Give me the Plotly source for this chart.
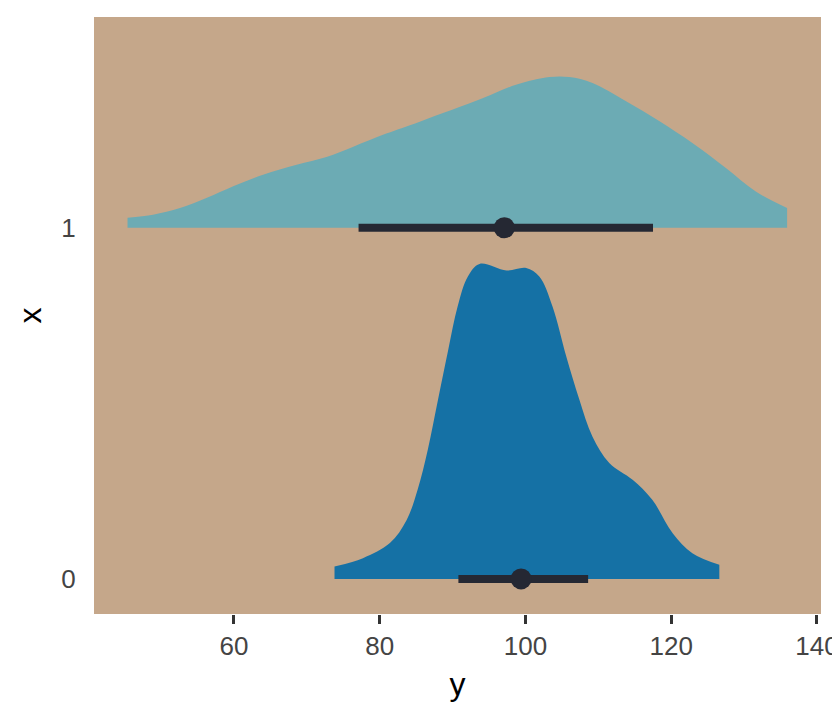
import plotly.graph_objects as go

# half-eye: density slab + point interval per group (x = 0 / 1)
groups = [0, 1]
colors = {0: "#1571A5", 1: "#6CABB4"}

# group 0 density (y value, scaled height)
g0_y = [73.8, 77.7, 81.4, 83.7, 85.2, 86.6, 88.0, 89.4, 90.7, 92.1, 93.7, 97.4, 100.1,
        101.9, 103.7, 105.6, 107.4, 109.2, 111.5, 114.7, 117.4, 120.2, 122.9, 126.6]
g0_h = [0.035, 0.059, 0.102, 0.168, 0.254, 0.368, 0.510, 0.652, 0.776, 0.861, 0.897, 0.878, 0.885,
        0.861, 0.776, 0.633, 0.510, 0.405, 0.330, 0.282, 0.225, 0.130, 0.073, 0.040]
# group 1 density
g1_y = [45.4, 48.9, 52.6, 56.3, 59.9, 64.0, 68.6, 72.7, 76.3, 80.9, 85.5, 94.2, 98.7,
        103.3, 106.0, 109.2, 113.8, 118.4, 122.9, 127.5, 131.6, 135.9]
g1_h = [0.028, 0.037, 0.056, 0.085, 0.118, 0.151, 0.179, 0.201, 0.230, 0.268, 0.302, 0.369, 0.407,
        0.429, 0.429, 0.412, 0.360, 0.303, 0.241, 0.170, 0.103, 0.056]

# point intervals: lower, median, upper
lo = [90.8, 77.1]
mid = [99.4, 97.1]
hi = [108.6, 117.5]

dens = {0: (g0_y, g0_h), 1: (g1_y, g1_h)}
INK = "#252833"

fig = go.Figure()
for g in groups:
    ys, hs = dens[g]
    # baseline first, then the curve filled down to it (keeps the slab ends square)
    fig.add_trace(go.Scatter(x=[ys[0], ys[-1]], y=[g, g], mode="lines",
                             line=dict(width=0, color=colors[g]), hoverinfo="skip", showlegend=False))
    fig.add_trace(go.Scatter(x=ys, y=[g + h for h in hs], mode="lines",
                             line=dict(width=0, color=colors[g], shape="spline", smoothing=1),
                             fill="tonexty", fillcolor=colors[g], showlegend=False))

for g in groups:
    fig.add_trace(go.Scatter(x=[lo[g], hi[g]], y=[g, g], mode="lines",
                             line=dict(width=8, color=INK), showlegend=False))
    fig.add_trace(go.Scatter(x=[mid[g]], y=[g], mode="markers",
                             marker=dict(size=21, color=INK), showlegend=False))

# page body has an 8px margin, so the figure is sized to sit inside the window
fig.update_layout(
    width=832, height=712, paper_bgcolor="white", plot_bgcolor="#C5A78A",
    margin=dict(l=86, r=19, t=9, b=106),
    font=dict(family="Liberation Sans, Arial, sans-serif", size=26, color="#444444"),
    xaxis=dict(range=[40.8, 140.55], tickvals=[60, 80, 100, 120, 140], showgrid=False,
               zeroline=False, showline=False, ticks="outside", ticklen=9, tickwidth=3,
               tickcolor="#333333", automargin=False,
               title=dict(text="y", font=dict(size=32, color="black"), standoff=12)),
    yaxis=dict(range=[-0.1, 1.6], tickvals=[0, 1], ticktext=["0", "1"], showgrid=False,
               zeroline=False, showline=False, ticks="outside", ticklen=12,
               tickcolor="rgba(0,0,0,0)", automargin=False,
               title=dict(text="x", font=dict(size=32, color="black"), standoff=10)),
)

fig.write_html("out.html")
